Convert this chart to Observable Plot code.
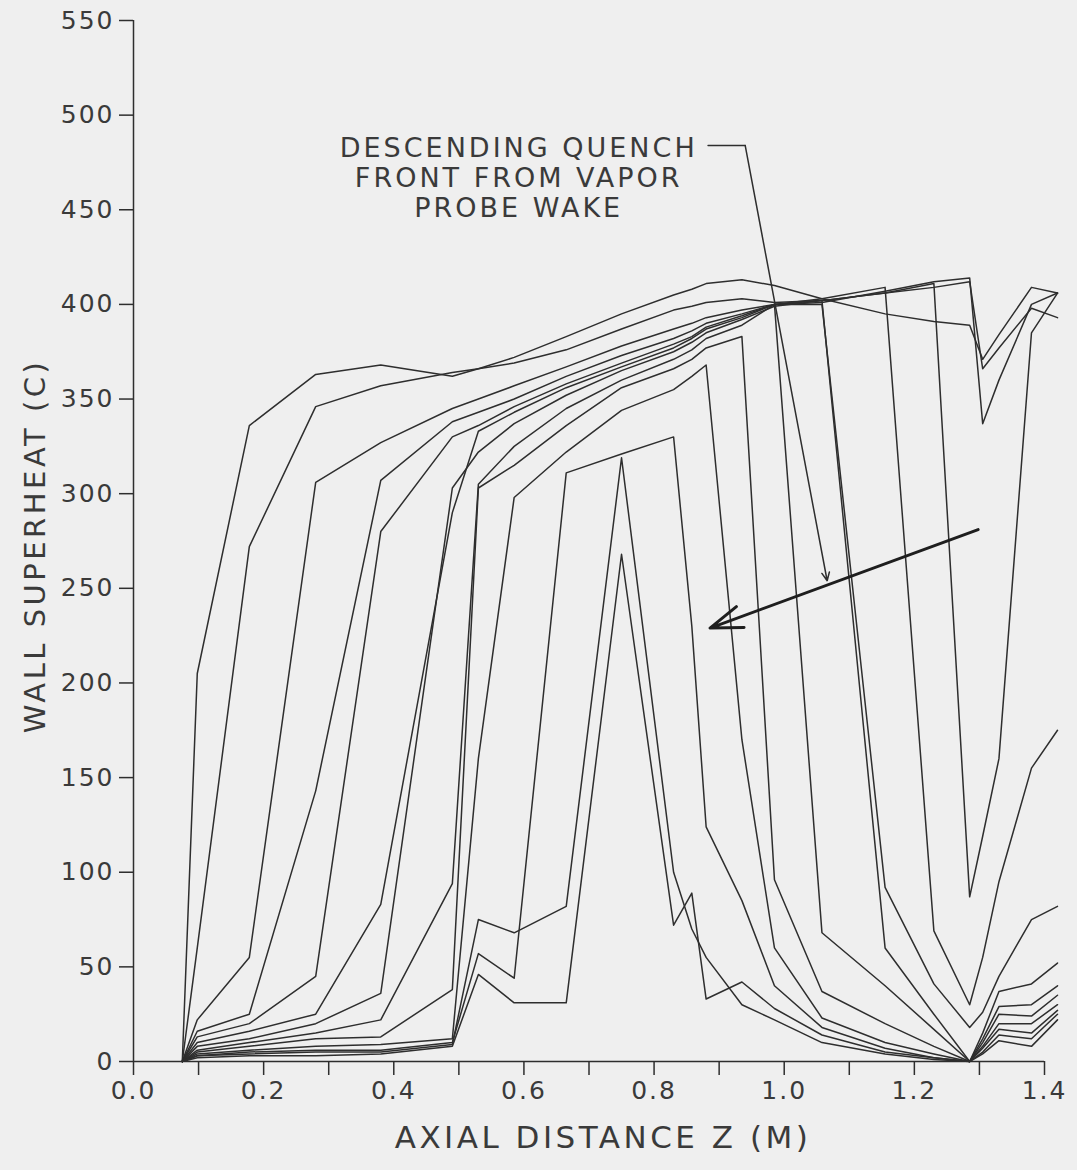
<!DOCTYPE html>
<html><head><meta charset="utf-8">
<script src="https://cdn.jsdelivr.net/npm/d3@7"></script>
<script src="https://cdn.jsdelivr.net/npm/@observablehq/plot@0.6"></script>
<style>
html,body{margin:0;padding:0;background:#efefef;}
#chart svg{display:block;}
</style></head><body><div id="chart"></div>
<script>
// axial positions of the thermocouples (m)
const Z = [0.075, 0.098, 0.178, 0.28, 0.38, 0.49, 0.53, 0.585, 0.665, 0.75, 0.83, 0.858, 0.88, 0.935, 0.985, 1.058, 1.155, 1.23, 1.285, 1.305, 1.33, 1.38, 1.42];
// wall superheat profiles (C), one per time
const run1  = [0, 205, 336, 363, 368, 362, 366, 372, 383, 395, 405, 408, 411, 413, 410, 403, 395, 391, 389, 371, 384, 409, 406];
const run2  = [0, 60, 272, 346, 357, 364, 366, 369, 376, 387, 397, 399, 401, 403, 401, 402, 406, 409, 412, 366, 377, 398, 393];
const run3  = [0, 22, 55, 306, 327, 345, 350, 357, 367, 378, 387, 390, 393, 397, 400, 401, 407, 412, 414, 337, 360, 400, 406];
const run4  = [0, 16, 25, 143, 307, 338, 343, 350, 362, 373, 382, 386, 390, 395, 400, 402, 406, 411, 87, 119, 160, 385, 406];
const run5  = [0, 13, 20, 45, 280, 330, 336, 346, 358, 369, 379, 383, 388, 394, 400, 403, 409, 69, 30, 55, 95, 155, 175];
const run6  = [0, 10, 16, 25, 83, 290, 333, 343, 356, 367, 377, 382, 387, 393, 400, 400, 92, 41, 18, 26, 45, 75, 82];
const run7  = [0, 8, 12, 20, 36, 303, 322, 337, 352, 365, 375, 380, 385, 392, 399, 402, 60, 25, 0, 15, 37, 41, 52];
const run8  = [0, 6, 10, 15, 22, 94, 305, 325, 345, 360, 371, 376, 382, 389, 400, 68, 40, 17, 0, 12, 29, 30, 40];
const run9  = [0, 5, 8, 12, 13, 38, 303, 315, 336, 356, 366, 371, 377, 383, 96, 37, 20, 8, 0, 10, 25, 24, 35];
const run10 = [0, 4, 6, 8, 9, 12, 160, 298, 322, 344, 355, 362, 368, 170, 60, 23, 10, 4, 0, 8, 20, 20, 30];
const run11 = [0, 3, 5, 6, 6, 10, 57, 44, 311, 321, 330, 230, 124, 85, 40, 18, 7, 2, 0, 7, 17, 15, 27];
const run12 = [0, 3, 4, 5, 5, 9, 75, 68, 82, 319, 100, 70, 55, 30, 22, 10, 4, 1, 0, 5, 14, 12, 25];
const run13 = [0, 2, 3, 3, 4, 8, 46, 31, 31, 268, 72, 89, 33, 42, 28, 14, 5, 2, 0, 4, 11, 8, 22];
const runs = [run1, run2, run3, run4, run5, run6, run7, run8, run9, run10, run11, run12, run13];

const xTicks = [0, 0.2, 0.4, 0.6, 0.8, 1.0, 1.2, 1.4];
const xMinor = [0.1, 0.3, 0.5, 0.7, 0.9, 1.1, 1.3];
const yTicks = [0, 50, 100, 150, 200, 250, 300, 350, 400, 450, 500, 550];

const xTitle = "AXIAL DISTANCE Z (M)";
const yTitle = "WALL SUPERHEAT (C)";
const noteText = "DESCENDING QUENCH\nFRONT FROM VAPOR\nPROBE WAKE";
const notePos = [{z: 0.592, v: 467}];
const leaderPath = [{z: 0.883, v: 484}, {z: 0.94, v: 484}];
const leaderArrow = [{z1: 0.94, v1: 484, z2: 1.066, v2: 254}];
const bigArrow = [{z1: 1.298, v1: 281, z2: 0.886, v2: 229}];

const data = runs.flatMap((r, i) => r.map((v, j) => ({run: i, z: Z[j], v})));
const ink = "#2e2e2e";
const textInk = "#3a3a3a";

const chart = Plot.plot({
  width: 1077,
  height: 1170,
  marginLeft: 133,
  marginRight: 33,
  marginTop: 20,
  marginBottom: 109,
  style: {background: "#efefef", fontFamily: "DejaVu Sans", color: textInk, letterSpacing: "2px"},
  x: {domain: [0, 1.4]},
  y: {domain: [0, 550]},
  marks: [
    Plot.ruleX([0], {stroke: ink, strokeWidth: 1.5}),
    Plot.ruleY([0], {stroke: ink, strokeWidth: 1.5}),
    Plot.axisY({ticks: yTicks, tickSize: 14, tickPadding: 5, fontSize: 25, label: null, stroke: ink, strokeWidth: 1.5}),
    Plot.axisX({ticks: xTicks, tickSize: 14, tickPadding: 6, fontSize: 25, label: null, tickFormat: d => d.toFixed(1), stroke: ink, strokeWidth: 1.5}),
    Plot.axisX({ticks: xMinor, tickSize: 14, tickFormat: () => "", label: null, stroke: ink, strokeWidth: 1.5}),
    Plot.line(data, {x: "z", y: "v", z: "run", stroke: ink, strokeWidth: 1.5, clip: false, curve: "linear"}),
    Plot.text([xTitle], {frameAnchor: "bottom", dy: 86, dx: 14, fontSize: 31, fill: textInk}),
    Plot.text([yTitle], {frameAnchor: "left", textAnchor: "middle", rotate: -90, dx: -98, dy: 5, fontSize: 29, fill: textInk}),
    Plot.text(notePos, {x: "z", y: "v", text: () => noteText, fontSize: 27, lineHeight: 1.1, fill: textInk}),
    Plot.line(leaderPath, {x: "z", y: "v", stroke: ink, strokeWidth: 1.5}),
    Plot.arrow(leaderArrow, {x1: "z1", y1: "v1", x2: "z2", y2: "v2", stroke: ink, strokeWidth: 1.5, headLength: 9, headAngle: 50}),
    Plot.arrow(bigArrow, {x1: "z1", y1: "v1", x2: "z2", y2: "v2", stroke: "#1e1e1e", strokeWidth: 3, headLength: 17, headAngle: 38})
  ]
});
// wider lettering for the titles and the annotation, as in the plotter font
d3.select(chart).selectAll("text")
  .filter(function() { return this.textContent === xTitle || this.textContent === yTitle; })
  .style("letter-spacing", "3.5px");
d3.select(chart).selectAll("text")
  .filter(function() { return this.textContent.startsWith("DESCENDING"); })
  .style("letter-spacing", "3px");
document.getElementById("chart").appendChild(chart);
</script>
</body></html>
